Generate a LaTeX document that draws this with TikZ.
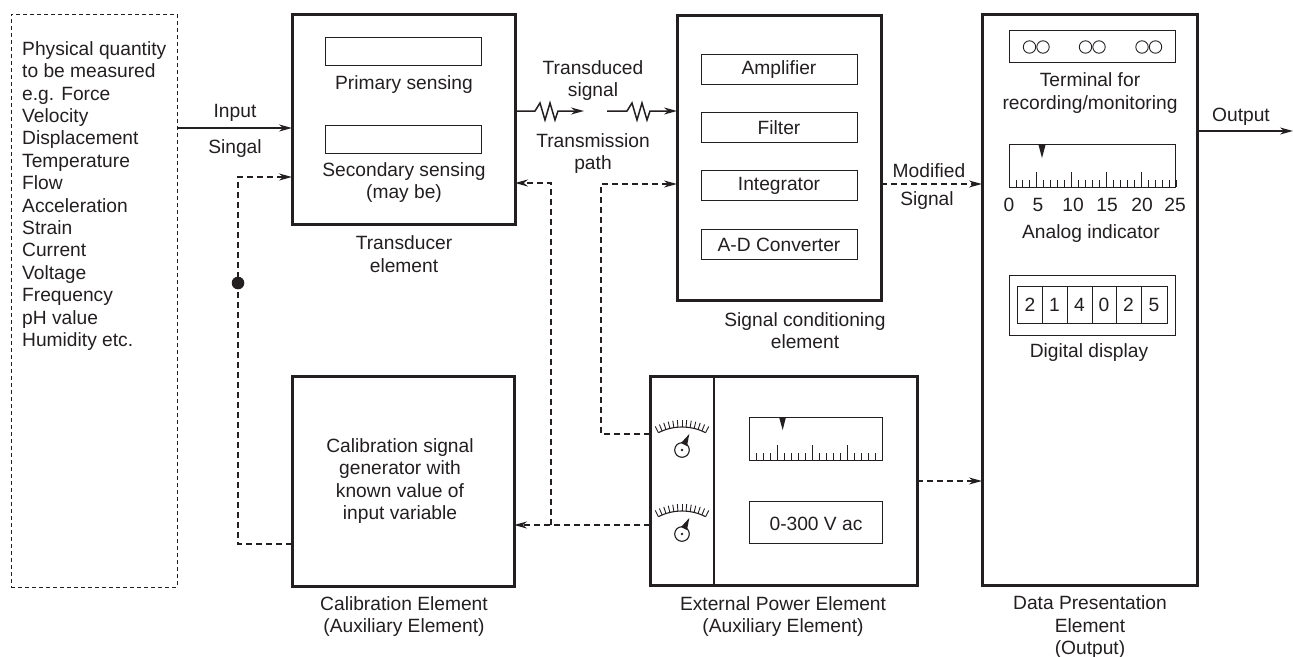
\documentclass[tikz,border=0pt]{standalone}
\usepackage{fontspec}
\setmainfont{Liberation Sans}
\usetikzlibrary{arrows.meta}
\definecolor{ink}{HTML}{231F20}
\tikzset{
    heavybox/.style={draw=ink, line width=3pt, anchor=north west, inner sep=0pt, outer sep=0pt},
    thinbox/.style={draw=ink, line width=1pt, anchor=north west, inner sep=0pt, outer sep=0pt},
    label/.style={text=ink, align=center, inner sep=0pt, yshift=-1.7pt},
    signal/.style={draw=ink, line width=1.5pt, -{Stealth[length=13pt,width=7pt]}},
    dashsignal/.style={signal, dash pattern=on 6pt off 4pt},
}
% scale with ticks, x y = lower left corner
\newcommand{\scaleticks}[3]{
    \foreach \i in {0,...,#3} {
        \draw[ink, line width=0.9pt] (#1+6.96*\i ,#2) -- ++ (0,-7);
    }
    \foreach \i in {4,9,14,19} {
        \ifnum\i<#3
            \draw[ink, line width=0.9pt] (#1+6.96*\i ,#2) -- ++ (0,-15);
        \fi
    }
}
% dial with arc, x y = centre of the knob
\newcommand{\dialmeter}[2]{
    \draw[ink, line width=1.1pt] (#1 ,#2) circle (7.3);
    \fill[ink] (#1 ,#2) circle (1.3);
    \fill[ink] (#1-1 ,#2-7) -- (#1+7.3 ,#2-16) -- (#1+5 ,#2-4) -- cycle;
    \draw[ink, line width=1.1pt] ([shift={(243:52)}] #1 ,#2+29) arc [start angle=243, end angle=297, radius=52];
    \foreach \a in {-27,-22.5,...,27} {
        \draw[ink, line width=0.9pt] ([shift={(270+\a:52)}] #1 ,#2+29) -- ([shift={(270+\a:59)}] #1 ,#2+29);
    }
}
\begin{document}
\begin{tikzpicture}[x=1pt, y=-1pt, font=\fontsize{19.2}{22.4}\selectfont]
    \useasboundingbox (0,0) rectangle (1293,656);

    % main boxes
    \node[thinbox, dash pattern=on 4pt off 3pt, minimum width=166pt, minimum height=573pt] (quantity) at (11,14) {};
    \node[heavybox, minimum width=223pt, minimum height=210pt] (transducer) at (292,14) {};
    \node[heavybox, minimum width=204pt, minimum height=285pt] (conditioning) at (677,15) {};
    \node[heavybox, minimum width=215pt, minimum height=571pt] (presentation) at (982,14) {};
    \node[heavybox, minimum width=222pt, minimum height=210pt] (calibration) at (292,376) {};
    \node[heavybox, minimum width=267pt, minimum height=209pt] (external) at (650,376) {};
    \draw[ink, line width=1.1pt] (714,376) -- (714,585);

    \node[label, align=left, anchor=north west] (quantitytext) at (22,39.5) {Physical quantity\\to be measured\\e.g. Force\\Velocity\\Displacement\\Temperature\\Flow\\Acceleration\\Strain\\Current\\Voltage\\Frequency\\pH value\\Humidity etc.};

    % transducer
    \node[thinbox, minimum width=156pt, minimum height=28pt] (primary) at (325,37) {};
    \node[thinbox, minimum width=156pt, minimum height=28pt] (secondary) at (325,125) {};
    \node[label] (primarytext) at (404,83) {Primary sensing};
    \node[label] (secondarytext) at (404,181) {Secondary sensing\\(may be)};
    \node[label] (transducertext) at (404,252.5) {Transducer\\element};

    % signal conditioning
    \foreach \y/\name/\txt in {54/amp/Amplifier,112/filt/Filter,170/integ/Integrator,229/adc/A-D Converter} {
        \node[thinbox, minimum width=156pt, minimum height=30pt] (\name) at (701,\y) {};
        \node[label, yshift=0.8pt] (\name text) at (\name.center) {\txt};
    }
    \node[label] (conditioningtext) at (805,329) {Signal conditioning\\element};

    % data presentation
    \node[thinbox, minimum width=166pt, minimum height=32pt] (terminal) at (1009,30) {};
    \foreach \x in {1029.5,1043,1085.5,1099,1142,1155.5} {
        \draw[ink, line width=0.9pt] (\x ,47) circle (6.2);
    }
    \node[label] (terminaltext) at (1090,91.5) {Terminal for\\recording/monitoring};

    \node[thinbox, minimum width=166pt, minimum height=43pt] (analog) at (1009,144.5) {};
    \scaleticks{1009}{187}{24}
    \fill[ink] (1038.5,145) -- (1045.5,145) -- (1042,158) -- cycle;
    \foreach \x/\num in {1009/0,1038/5,1073/10,1107/15,1142/20,1175/25} {
        \node[label] (analog\num) at (\x ,203) {\num};
    }
    \node[label] (analogtext) at (1091,232) {Analog indicator};

    \node[thinbox, minimum width=166pt, minimum height=60pt] (digital) at (1009,275) {};
    \node[thinbox, minimum width=150pt, minimum height=37pt] (digits) at (1017,286) {};
    \foreach \x in {1042,1067,1092,1116,1141} {
        \draw[ink, line width=1pt] (\x ,286) -- (\x ,323);
    }
    \foreach \x/\num/\i in {1030/2/a,1054.5/1/b,1079.5/4/c,1104/0/d,1128.5/2/e,1154/5/f} {
        \node[label] (digit\i) at (\x ,303.5) {\num};
    }
    \node[label] (digitaltext) at (1089,351) {Digital display};
    \node[label] (presentationtext) at (1090,625.5) {Data Presentation\\Element\\(Output)};

    % calibration
    \node[label] (calibrationtext) at (400,479.5) {Calibration signal\\generator with\\known value of\\input variable};
    \node[label] (calibrationname) at (404,615) {Calibration Element\\(Auxiliary Element)};

    % external power
    \dialmeter{682}{450}
    \dialmeter{682}{534}
    \node[thinbox, minimum width=133pt, minimum height=43pt] (meter) at (749.5,417) {};
    \scaleticks{749.7}{460}{19}
    \fill[ink] (779,417) -- (786,417) -- (782.7,430) -- cycle;
    \node[thinbox, minimum width=133pt, minimum height=42pt] (range) at (749.5,501) {};
    \node[label] (rangetext) at (range.center) {0-300 V ac};
    \node[label] (externaltext) at (783,615) {External Power Element\\(Auxiliary Element)};

    % signal path
    \coordinate (inlevel) at (0,128);
    \coordinate (linklevel) at (0,111);
    \coordinate (gapleft) at (584,111);
    \coordinate (gapright) at (607,111);
    \coordinate (fork) at (551,183);
    \coordinate (feedback) at (238,283);
    \coordinate (tapleft) at (601,184);

    \draw[signal] (quantity.east |- inlevel) -- (transducer.west |- inlevel);
    \node[label] (inputtext) at (235,111) {Input};
    \node[label] (singaltext) at (235,147) {Singal};

    \foreach \s/\e in {transducer.east/gapleft,gapright/conditioning.west} {
        \draw[signal] (\s |- linklevel) -- ++ (20,0) -- ++ (5,-8) -- ++ (5,17) -- ++ (5,-17) -- ++ (5,17) -- ++ (3,-9) -- (\e |- linklevel);
    }
    \node[label] (transducedtext) at (593,79) {Transduced\\signal};
    \node[label] (pathtext) at (593,152) {Transmission\\path};

    \draw[dashsignal] (conditioning.east |- tapleft) -- (presentation.west |- tapleft);
    \node[label] (modifiedtext) at (929,168.5) {Modified};
    \node[label] (signaltext) at (927,199) {Signal};
    \draw[signal] (presentation.east |- 0,131) -- (1293,131);
    \node[label] (outputtext) at (1241,115) {Output};

    % auxiliary paths
    \draw[dashsignal] (calibration.west |- 0,544) -- (feedback |- 0,544) -- (feedback |- 0,177) -- (transducer.west |- 0,177);
    \fill[ink] (feedback) circle (6.3);
    \draw[dashsignal] (external.west |- 0,525) -- (calibration.east |- 0,525);
    \draw[dashsignal] (fork |- 0,525) -- (fork) -- (transducer.east |- fork);
    \draw[dashsignal] (external.west |- 0,434) -- (tapleft |- 0,434) -- (tapleft) -- (conditioning.west |- tapleft);
    \draw[dashsignal] (external.east |- 0,481) -- (presentation.west |- 0,481);
\end{tikzpicture}
\end{document}
